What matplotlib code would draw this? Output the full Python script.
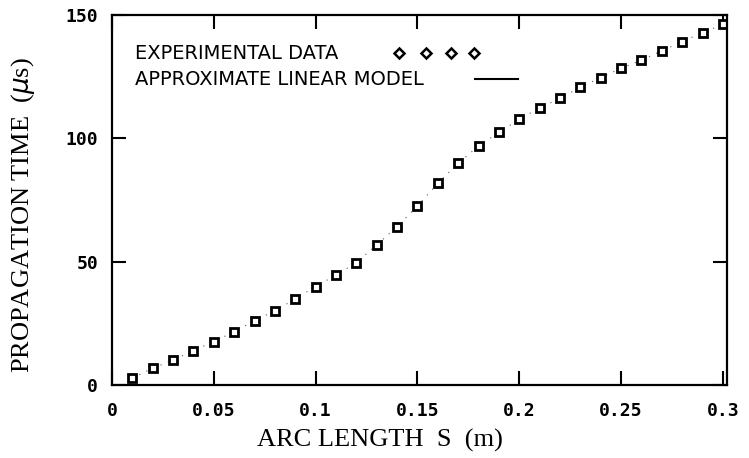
import matplotlib
matplotlib.use("Agg")
import matplotlib.pyplot as plt

arc_length = [0.01, 0.02, 0.03, 0.04, 0.05, 0.06, 0.07, 0.08, 0.09, 0.10,
              0.11, 0.12, 0.13, 0.14, 0.15, 0.16, 0.17, 0.18, 0.19, 0.20,
              0.21, 0.22, 0.23, 0.24, 0.25, 0.26, 0.27, 0.28, 0.29, 0.30]
prop_time = [2.8, 6.8, 10.1, 13.9, 17.6, 21.6, 26.1, 30.1, 34.9, 39.9,
             44.6, 49.6, 56.8, 64.2, 72.6, 81.8, 89.9, 96.9, 102.4, 107.7,
             112.4, 116.2, 120.7, 124.6, 128.4, 131.7, 135.5, 139.2, 142.8, 146.2]

x_ticks = [0, 0.05, 0.1, 0.15, 0.2, 0.25, 0.3]
x_ticklabels = ["0", "0.05", "0.1", "0.15", "0.2", "0.25", "0.3"]
y_ticks = [0, 50, 100, 150]
y_ticklabels = ["0", "50", "100", "150"]

fig = plt.figure(figsize=(7.49, 4.58), dpi=100)
ax = fig.add_axes([0.1495, 0.1594, 0.8211, 0.8078])

# linear model, drawn faint and dotted like in the scan
ax.plot(arc_length, prop_time, linestyle=(0, (1, 6)), color="0.35", linewidth=0.8)
ax.plot(arc_length, prop_time, linestyle="none", marker="s", markersize=5.5,
        markerfacecolor="white", markeredgecolor="black", markeredgewidth=2.0)

ax.set_xlim(0, 0.302)
ax.set_ylim(0, 150)
ax.set_xticks(x_ticks)
ax.set_xticklabels(x_ticklabels)
ax.set_yticks(y_ticks)
ax.set_yticklabels(y_ticklabels)
ax.tick_params(direction="in", length=10, width=1.5, top=True, right=True,
               labelsize=13)
ax.tick_params(axis="x", pad=12)
ax.tick_params(axis="y", pad=10)
for lab in ax.get_xticklabels() + ax.get_yticklabels():
    lab.set_family("DejaVu Sans Mono")
    lab.set_fontweight("bold")
for sp in ax.spines.values():
    sp.set_linewidth(1.6)

ax.set_xlabel("ARC LENGTH  S  (m)", family="Liberation Serif", fontsize=19, labelpad=4)
ax.xaxis.set_label_coords(0.436, -0.12)
ax.set_ylabel("PROPAGATION TIME  ($\\mu$s)", family="Liberation Serif", fontsize=19)
ax.yaxis.set_label_coords(-0.122, 0.46)

# hand-made legend in the upper left
ax.text(0.037, 0.897, "EXPERIMENTAL DATA", transform=ax.transAxes,
        fontsize=14, family="DejaVu Sans", va="center")
ax.plot([0.467, 0.511, 0.552, 0.588], [0.897] * 4, transform=ax.transAxes,
        linestyle="none", marker="D", markersize=5, markerfacecolor="white",
        markeredgecolor="black", markeredgewidth=1.8, clip_on=False)
ax.text(0.037, 0.826, "APPROXIMATE LINEAR MODEL", transform=ax.transAxes,
        fontsize=14, family="DejaVu Sans", va="center")
ax.plot([0.59, 0.66], [0.826, 0.826], transform=ax.transAxes,
        color="black", linewidth=1.5)

fig.savefig("out.png", dpi=100)
